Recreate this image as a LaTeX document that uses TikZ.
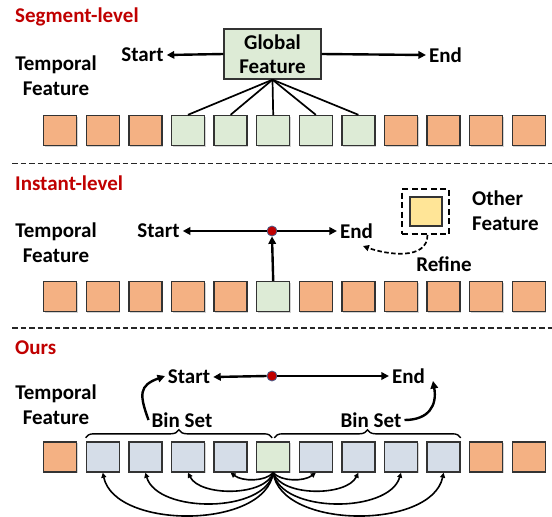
\documentclass[tikz,border=0pt]{standalone}
\usepackage{fontspec}
\setmainfont{Carlito}
\usetikzlibrary{arrows.meta,decorations.pathreplacing,shadows,calc}
\definecolor{orangeF}{HTML}{F4B183}
\definecolor{greenF}{HTML}{DDEBD6}
\definecolor{blueF}{HTML}{D5DDE8}
\definecolor{yellowF}{HTML}{FFE597}
\definecolor{redT}{HTML}{C00000}
\definecolor{edgeC}{HTML}{333333}
\definecolor{dotEdge}{HTML}{4A5F8C}
\tikzset{
  txt/.style={font=\fontsize{21}{24.5}\selectfont\bfseries, inner sep=3pt, align=center},
  redlbl/.style={txt, text=redT, anchor=west, inner sep=0pt},
  sq/.style={draw=edgeC, line width=1.4pt, minimum width=33pt, minimum height=30pt, inner sep=0pt,
    drop shadow={shadow xshift=1pt, shadow yshift=-1pt, opacity=0.35}},
  arr/.style={line width=2.4pt, -{Triangle[length=7.5pt,width=7.5pt]}},
  thinarr/.style={line width=1.6pt, -{Triangle[length=5pt,width=5pt]}},
  sepline/.style={line width=1.8pt, dash pattern=on 5.5pt off 3pt, draw=black!85},
  reddot/.style={circle, fill=redT, draw=dotEdge, line width=0.8pt, minimum size=10pt, inner sep=0pt},
}
\begin{document}
\begin{tikzpicture}[x=1pt,y=1pt]
\useasboundingbox (0,0) rectangle (552,-517);

% separators
\coordinate (sepAL) at (12,-163.5);
\coordinate (sepAR) at (552,-163.5);
\coordinate (sepBL) at (12,-328);
\coordinate (sepBR) at (552,-328);
\draw[sepline] (sepAL) -- (sepAR);
\draw[sepline] (sepBL) -- (sepBR);

% ================= Segment-level =================
\node[redlbl] (lbl1) at (15,-17) {Segment-level};
\node[txt] (tf1) at (56,-75.5) {Temporal\\Feature};
\foreach \i in {0,...,11}{
  \ifnum\i<3 \def\cc{orangeF}\else\ifnum\i>7 \def\cc{orangeF}\else\def\cc{greenF}\fi\fi
  \node[sq, fill=\cc] (s1-\i) at ({60.2+42.6*\i},-130.5) {};
}
\node[txt, draw=edgeC, line width=1.4pt, fill=greenF, minimum width=97pt, minimum height=50pt,
  font=\fontsize{21}{23.5}\selectfont\bfseries,
  drop shadow={shadow xshift=1pt, shadow yshift=-1pt, opacity=0.35}] (gf) at (272.5,-54) {Global\\Feature};
\node[txt] (st1) at (142.5,-55) {Start};
\node[txt] (en1) at (445.5,-55) {End};
\draw[arr] (gf.west) -- (st1.east);
\draw[arr] (gf.east) -- (en1.west);
\foreach \i in {3,...,7}{
  \draw[line width=1.7pt] (gf.south) -- (s1-\i.north);
}

% ================= Instant-level =================
\node[redlbl] (lbl2) at (15,-183) {Instant-level};
\node[txt] (tf2) at (56,-242.5) {Temporal\\Feature};
\foreach \i in {0,...,11}{
  \ifnum\i=5 \def\cc{greenF}\else\def\cc{orangeF}\fi
  \node[sq, fill=\cc] (s2-\i) at ({60.2+42.6*\i},-296.5) {};
}
\node[reddot] (dot2) at (272,-231) {};
\node[txt] (st2) at (158.5,-231) {Start};
\node[txt] (en2) at (356.5,-231) {End};
\draw[arr] (dot2.west) -- (st2.east);
\draw[arr] (dot2.east) -- (en2.west);
\draw[arr] (s2-5.north) -- (dot2.south);
\node[draw=black, line width=1.9pt, dash pattern=on 6pt off 3.5pt, minimum width=47pt, minimum height=45pt, inner sep=0pt] (obox) at (425.5,-211.5) {};
\node[draw=edgeC, line width=1.4pt, fill=yellowF, minimum width=32pt, minimum height=29pt, inner sep=0pt] (ofeat) at (426,-211.5) {};
\node[txt, align=left, anchor=west] (oth) at (469,-210.5) {Other\\Feature};
\node[txt] (ref) at (444,-264) {Refine};
\coordinate (refTip) at (363,-246);
\draw[line width=1.7pt, dash pattern=on 4.5pt off 2.5pt, -{Triangle[length=6pt,width=6pt]}] ([xshift=2pt]obox.south) to[out=-90, in=-20] (refTip);

% ================= Ours =================
\node[redlbl] (lbl3) at (15,-348) {Ours};
\node[txt] (tf3) at (56,-404.5) {Temporal\\Feature};
\foreach \i in {0,...,11}{
  \ifnum\i=0 \def\cc{orangeF}\else\ifnum\i>9 \def\cc{orangeF}\else\ifnum\i=5 \def\cc{greenF}\else\def\cc{blueF}\fi\fi\fi
  \node[sq, fill=\cc] (s3-\i) at ({60.2+42.6*\i},-457) {};
}
\node[reddot] (dot3) at (272,-376) {};
\node[txt] (st3) at (189,-377) {Start};
\node[txt] (en3) at (408.5,-376) {End};
\draw[arr] (dot3.west) -- (st3.east);
\draw[arr] (dot3.east) -- (en3.west);
\node[txt] (binL) at (182,-420) {Bin Set};
\node[txt] (binR) at (371,-420) {Bin Set};
\draw[line width=1.4pt, decorate, decoration={brace, amplitude=8pt}]
  ([yshift=3.5pt]s3-1.north west) -- ([yshift=3.5pt, xshift=-1pt]s3-5.north);
\draw[line width=1.4pt, decorate, decoration={brace, amplitude=8pt}]
  ([yshift=3.5pt, xshift=1pt]s3-5.north) -- ([yshift=3.5pt]s3-9.north east);
\coordinate (tipL) at (165,-376);
\coordinate (tipR) at (433,-381);
\draw[arr] (binL.west) to[out=110, in=200, looseness=1.5] (tipL);
\draw[arr] (binR.east) to[out=0, in=-80, looseness=1.3] (tipR);
\foreach \j/\k in {1/57,2/41,3/24,4/9}{
  \draw[thinarr] (s3-5.south) .. controls +(-8,-\k) and +(12,-\k) .. (s3-\j.south);
}
\foreach \j/\k in {9/57,8/41,7/24,6/9}{
  \draw[thinarr] (s3-5.south) .. controls +(8,-\k) and +(-12,-\k) .. (s3-\j.south);
}
\end{tikzpicture}
\end{document}
